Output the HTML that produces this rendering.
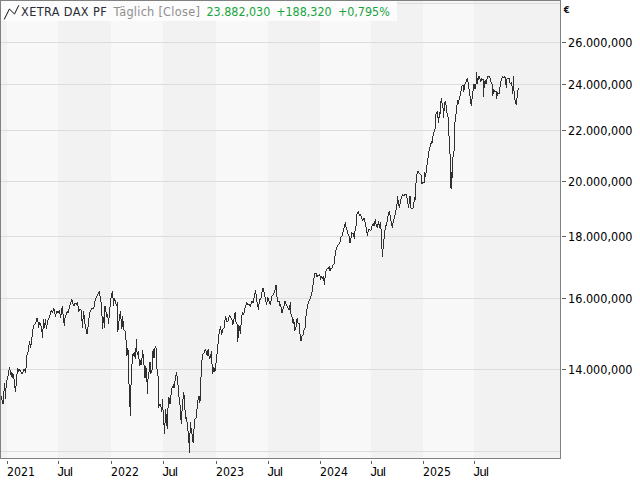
<!DOCTYPE html>
<html lang="de">
<head>
<meta charset="utf-8">
<title>XETRA DAX PF</title>
<style>
html,body{margin:0;padding:0;background:#fff;width:640px;height:480px;overflow:hidden}
svg text{font-family:"DejaVu Sans Condensed","DejaVu Sans","Liberation Sans",sans-serif;}
</style>
</head>
<body>
<svg width="640" height="480" viewBox="0 0 640 480" style="position:absolute;left:0;top:0;display:block">
<rect x="0" y="0" width="640" height="480" fill="#ffffff"/>
<rect x="1" y="1" width="6" height="457" fill="#f2f2f2"/>
<rect x="7" y="1" width="51" height="457" fill="#f8f8f8"/>
<rect x="58" y="1" width="53" height="457" fill="#f2f2f2"/>
<rect x="111" y="1" width="52" height="457" fill="#f8f8f8"/>
<rect x="163" y="1" width="53" height="457" fill="#f2f2f2"/>
<rect x="216" y="1" width="52" height="457" fill="#f8f8f8"/>
<rect x="268" y="1" width="52" height="457" fill="#f2f2f2"/>
<rect x="320" y="1" width="51" height="457" fill="#f8f8f8"/>
<rect x="371" y="1" width="52" height="457" fill="#f2f2f2"/>
<rect x="423" y="1" width="51" height="457" fill="#f8f8f8"/>
<rect x="474" y="1" width="86" height="457" fill="#f2f2f2"/>
<rect x="1" y="3" width="559" height="1" fill="#dcdcdc"/>
<rect x="1" y="42" width="559" height="1" fill="#dcdcdc"/>
<rect x="1" y="84" width="559" height="1" fill="#dcdcdc"/>
<rect x="1" y="130" width="559" height="1" fill="#dcdcdc"/>
<rect x="1" y="181" width="559" height="1" fill="#dcdcdc"/>
<rect x="1" y="236" width="559" height="1" fill="#dcdcdc"/>
<rect x="1" y="298" width="559" height="1" fill="#dcdcdc"/>
<rect x="1" y="369" width="559" height="1" fill="#dcdcdc"/>
<rect x="1" y="451" width="559" height="1" fill="#dcdcdc"/>
<rect x="1" y="1" width="396" height="20" fill="#fcfcfc"/>
<rect x="0" y="0" width="561" height="1" fill="#808080"/>
<rect x="0" y="0" width="1" height="459" fill="#808080"/>
<rect x="560" y="0" width="1" height="459" fill="#808080"/>
<rect x="0" y="458" width="561" height="1" fill="#808080"/>
<rect x="562" y="42" width="4" height="1" fill="#606060"/>
<text x="568.1" y="47.0" font-size="12.5" fill="#000" textLength="64.375" lengthAdjust="spacingAndGlyphs">26.000,000</text>
<rect x="562" y="84" width="4" height="1" fill="#606060"/>
<text x="568.1" y="89.0" font-size="12.5" fill="#000" textLength="64.375" lengthAdjust="spacingAndGlyphs">24.000,000</text>
<rect x="562" y="130" width="4" height="1" fill="#606060"/>
<text x="568.1" y="135.0" font-size="12.5" fill="#000" textLength="64.375" lengthAdjust="spacingAndGlyphs">22.000,000</text>
<rect x="562" y="181" width="4" height="1" fill="#606060"/>
<text x="568.1" y="186.0" font-size="12.5" fill="#000" textLength="64.375" lengthAdjust="spacingAndGlyphs">20.000,000</text>
<rect x="562" y="236" width="4" height="1" fill="#606060"/>
<text x="568.1" y="241.0" font-size="12.5" fill="#000" textLength="64.375" lengthAdjust="spacingAndGlyphs">18.000,000</text>
<rect x="562" y="298" width="4" height="1" fill="#606060"/>
<text x="568.1" y="303.0" font-size="12.5" fill="#000" textLength="64.375" lengthAdjust="spacingAndGlyphs">16.000,000</text>
<rect x="562" y="369" width="4" height="1" fill="#606060"/>
<text x="568.1" y="374.0" font-size="12.5" fill="#000" textLength="64.375" lengthAdjust="spacingAndGlyphs">14.000,000</text>
<rect x="7" y="461" width="1" height="3" fill="#606060"/>
<text x="7.0" y="476" font-size="12.2" fill="#000" textLength="27.90625" lengthAdjust="spacingAndGlyphs">2021</text>
<rect x="58" y="461" width="1" height="3" fill="#606060"/>
<text x="57.5" y="476" font-size="12.8" letter-spacing="-0.5" fill="#000" style="font-family:'Liberation Sans',sans-serif" textLength="14.859375" lengthAdjust="spacingAndGlyphs">Jul</text>
<rect x="111" y="461" width="1" height="3" fill="#606060"/>
<text x="111.0" y="476" font-size="12.2" fill="#000" textLength="27.90625" lengthAdjust="spacingAndGlyphs">2022</text>
<rect x="163" y="461" width="1" height="3" fill="#606060"/>
<text x="162.5" y="476" font-size="12.8" letter-spacing="-0.5" fill="#000" style="font-family:'Liberation Sans',sans-serif" textLength="14.859375" lengthAdjust="spacingAndGlyphs">Jul</text>
<rect x="216" y="461" width="1" height="3" fill="#606060"/>
<text x="216.0" y="476" font-size="12.2" fill="#000" textLength="27.90625" lengthAdjust="spacingAndGlyphs">2023</text>
<rect x="268" y="461" width="1" height="3" fill="#606060"/>
<text x="267.5" y="476" font-size="12.8" letter-spacing="-0.5" fill="#000" style="font-family:'Liberation Sans',sans-serif" textLength="14.859375" lengthAdjust="spacingAndGlyphs">Jul</text>
<rect x="320" y="461" width="1" height="3" fill="#606060"/>
<text x="320.0" y="476" font-size="12.2" fill="#000" textLength="27.90625" lengthAdjust="spacingAndGlyphs">2024</text>
<rect x="371" y="461" width="1" height="3" fill="#606060"/>
<text x="370.5" y="476" font-size="12.8" letter-spacing="-0.5" fill="#000" style="font-family:'Liberation Sans',sans-serif" textLength="14.859375" lengthAdjust="spacingAndGlyphs">Jul</text>
<rect x="423" y="461" width="1" height="3" fill="#606060"/>
<text x="423.0" y="476" font-size="12.2" fill="#000" textLength="27.90625" lengthAdjust="spacingAndGlyphs">2025</text>
<rect x="474" y="461" width="1" height="3" fill="#606060"/>
<text x="473.5" y="476" font-size="12.8" letter-spacing="-0.5" fill="#000" style="font-family:'Liberation Sans',sans-serif" textLength="14.859375" lengthAdjust="spacingAndGlyphs">Jul</text>
<text x="563.7" y="13.2" font-size="9.4" font-weight="bold" fill="#111">€</text>
<path fill="none" stroke="#303030" stroke-width="1" shape-rendering="crispEdges" d="M1.5 396v4M2.5 400v4M3.5 391v13M4.5 383v8M5.5 388v11M6.5 380v8M7.5 376v4M8.5 370v6M9.5 367v3M10.5 370v5M11.5 372v5M12.5 373v5M13.5 374v5M14.5 379v9M15.5 386v6M16.5 374v12M17.5 368v6M18.5 369v3M19.5 369v2M20.5 370v2M21.5 372v2M22.5 372v2M23.5 369v3M24.5 369v2M25.5 368v5M26.5 355v13M27.5 352v3M28.5 345v7M29.5 341v4M30.5 344v4M31.5 337v8M32.5 329v8M33.5 325v4M34.5 324v1M35.5 322v2M36.5 318v4M37.5 318v4M38.5 322v6M39.5 322v3M40.5 323v3M41.5 326v6M42.5 329v9M43.5 319v10M44.5 323v5M45.5 319v6M46.5 325v4M47.5 320v5M48.5 318v2M49.5 315v3M50.5 311v4M51.5 310v2M52.5 311v2M53.5 308v3M54.5 309v5M55.5 314v3M56.5 311v3M57.5 311v2M58.5 311v2M59.5 310v4M60.5 314v4M61.5 308v7M62.5 306v8M63.5 314v9M64.5 318v8M65.5 315v3M66.5 312v3M67.5 311v2M68.5 309v4M69.5 305v4M70.5 302v3M71.5 299v3M72.5 300v4M73.5 304v2M74.5 303v3M75.5 303v1M76.5 303v2M77.5 302v4M78.5 306v6M79.5 309v2M80.5 309v1M81.5 310v11M82.5 319v9M83.5 311v8M84.5 315v9M85.5 324v5M86.5 329v5M87.5 327v7M88.5 318v9M89.5 312v6M90.5 310v2M91.5 308v2M92.5 308v1M93.5 307v2M94.5 301v6M95.5 298v3M96.5 296v2M97.5 294v2M98.5 292v2M99.5 291v5M100.5 296v6M101.5 302v14M102.5 316v13M103.5 317v6M104.5 306v22M105.5 306v6M106.5 312v5M107.5 314v4M108.5 318v6M109.5 307v11M110.5 298v9M111.5 293v5M112.5 291v7M113.5 298v8M114.5 298v3M115.5 300v4M116.5 304v2M117.5 302v30M118.5 321v9M119.5 314v7M120.5 311v8M121.5 319v10M122.5 316v11M123.5 321v9M124.5 330v1M125.5 331v9M126.5 340v16M127.5 348v7M128.5 350v34M129.5 384v23M130.5 385v31M131.5 364v21M132.5 354v10M133.5 353v3M134.5 352v5M135.5 348v11M136.5 339v13M137.5 352v3M138.5 351v8M139.5 359v7M140.5 360v5M141.5 358v7M142.5 350v8M143.5 354v11M144.5 365v13M145.5 366v12M146.5 368v14M147.5 379v15M148.5 372v7M149.5 362v10M150.5 362v12M151.5 370v3M152.5 351v19M153.5 349v9M154.5 348v10M155.5 346v2M156.5 348v21M157.5 369v7M158.5 376v32M159.5 404v2M160.5 404v3M161.5 407v5M162.5 399v11M163.5 410v15M164.5 423v11M165.5 409v14M166.5 414v12M167.5 408v21M168.5 397v11M169.5 398v6M170.5 395v9M171.5 388v7M172.5 386v2M173.5 384v4M174.5 381v7M175.5 375v6M176.5 372v4M177.5 376v9M178.5 385v12M179.5 397v8M180.5 405v15M181.5 411v13M182.5 399v12M183.5 392v7M184.5 395v15M185.5 410v9M186.5 417v5M187.5 422v9M188.5 431v12M189.5 433v20M190.5 422v11M191.5 428v6M192.5 434v8M193.5 429v14M194.5 419v10M195.5 418v1M196.5 409v9M197.5 400v9M198.5 396v4M199.5 396v7M200.5 377v24M201.5 360v17M202.5 354v6M203.5 353v1M204.5 350v3M205.5 349v2M206.5 351v4M207.5 350v6M208.5 349v7M209.5 356v3M210.5 354v4M211.5 351v13M212.5 364v10M213.5 367v5M214.5 368v4M215.5 363v8M216.5 354v9M217.5 344v10M218.5 334v10M219.5 329v5M220.5 326v4M221.5 330v5M222.5 329v4M223.5 328v1M224.5 320v8M225.5 316v4M226.5 318v4M227.5 321v1M228.5 317v4M229.5 315v2M230.5 316v2M231.5 318v2M232.5 320v5M233.5 319v5M234.5 313v6M235.5 312v10M236.5 322v2M237.5 324v18M238.5 325v13M239.5 326v5M240.5 325v9M241.5 315v10M242.5 312v3M243.5 313v2M244.5 308v5M245.5 305v3M246.5 302v3M247.5 303v2M248.5 304v1M249.5 304v2M250.5 304v3M251.5 301v3M252.5 301v2M253.5 298v5M254.5 293v5M255.5 290v4M256.5 294v8M257.5 302v5M258.5 304v6M259.5 299v5M260.5 298v2M261.5 292v6M262.5 288v4M263.5 288v4M264.5 292v5M265.5 297v5M266.5 302v3M267.5 297v5M268.5 298v3M269.5 301v3M270.5 301v4M271.5 296v5M272.5 295v1M273.5 293v2M274.5 290v3M275.5 285v5M276.5 285v12M277.5 297v5M278.5 301v1M279.5 301v5M280.5 304v3M281.5 307v6M282.5 309v4M283.5 306v3M284.5 301v5M285.5 301v3M286.5 304v2M287.5 306v2M288.5 308v2M289.5 305v5M290.5 302v12M291.5 314v3M292.5 317v6M293.5 319v5M294.5 322v9M295.5 327v3M296.5 319v8M297.5 318v5M298.5 323v1M299.5 323v11M300.5 334v7M301.5 336v5M302.5 335v1M303.5 330v5M304.5 328v2M305.5 316v12M306.5 309v7M307.5 304v5M308.5 301v3M309.5 299v2M310.5 296v3M311.5 292v4M312.5 285v7M313.5 278v7M314.5 273v5M315.5 273v1M316.5 273v4M317.5 275v2M318.5 275v1M319.5 274v2M320.5 276v4M321.5 276v2M322.5 277v2M323.5 276v5M324.5 278v7M325.5 271v7M326.5 269v2M327.5 268v1M328.5 267v2M329.5 266v5M330.5 268v3M331.5 268v1M332.5 265v3M333.5 264v1M334.5 256v8M335.5 250v6M336.5 247v3M337.5 245v2M338.5 244v1M339.5 242v2M340.5 237v5M341.5 236v1M342.5 232v4M343.5 228v4M344.5 224v4M345.5 222v5M346.5 227v3M347.5 230v4M348.5 234v2M349.5 236v7M350.5 238v5M351.5 232v6M352.5 233v1M353.5 233v4M354.5 231v8M355.5 226v5M356.5 214v12M357.5 212v2M358.5 211v3M359.5 214v2M360.5 214v2M361.5 216v3M362.5 219v2M363.5 218v2M364.5 218v4M365.5 222v5M366.5 227v6M367.5 232v4M368.5 229v3M369.5 229v1M370.5 230v1M371.5 226v4M372.5 224v2M373.5 223v3M374.5 221v5M375.5 219v5M376.5 224v3M377.5 224v4M378.5 221v4M379.5 224v4M380.5 222v7M381.5 229v20M382.5 249v8M383.5 239v10M384.5 230v9M385.5 225v5M386.5 222v4M387.5 216v6M388.5 212v4M389.5 211v4M390.5 215v6M391.5 221v5M392.5 223v5M393.5 219v4M394.5 215v4M395.5 210v5M396.5 204v6M397.5 196v8M398.5 200v6M399.5 204v4M400.5 199v5M401.5 196v3M402.5 194v2M403.5 195v1M404.5 194v2M405.5 194v1M406.5 194v4M407.5 198v6M408.5 204v4M409.5 196v8M410.5 196v12M411.5 208v1M412.5 208v1M413.5 202v6M414.5 197v5M415.5 183v17M416.5 174v9M417.5 171v3M418.5 171v2M419.5 173v1M420.5 174v1M421.5 175v9M422.5 182v2M423.5 182v1M424.5 172v11M425.5 173v4M426.5 165v8M427.5 158v7M428.5 151v7M429.5 147v4M430.5 143v4M431.5 141v3M432.5 136v7M433.5 132v4M434.5 129v3M435.5 114v15M436.5 112v2M437.5 111v7M438.5 117v6M439.5 112v6M440.5 101v13M441.5 98v5M442.5 103v5M443.5 108v10M444.5 102v9M445.5 101v4M446.5 105v8M447.5 113v4M448.5 117v19M449.5 136v18M450.5 154v34M451.5 172v17M452.5 157v21M453.5 151v6M454.5 122v29M455.5 114v8M456.5 105v9M457.5 100v5M458.5 100v4M459.5 96v4M460.5 91v5M461.5 86v5M462.5 85v1M463.5 85v7M464.5 84v6M465.5 82v2M466.5 79v3M467.5 78v4M468.5 82v7M469.5 89v7M470.5 96v8M471.5 99v7M472.5 91v8M473.5 84v7M474.5 84v5M475.5 84v5M476.5 72v12M477.5 78v6M478.5 76v4M479.5 76v3M480.5 79v3M481.5 78v3M482.5 79v1M483.5 79v18M484.5 81v7M485.5 80v4M486.5 79v5M487.5 76v3M488.5 76v1M489.5 76v2M490.5 78v4M491.5 82v2M492.5 84v12M493.5 89v5M494.5 90v2M495.5 91v1M496.5 91v8M497.5 92v4M498.5 93v1M499.5 87v7M500.5 81v6M501.5 78v3M502.5 76v2M503.5 77v1M504.5 76v2M505.5 77v8M506.5 79v9M507.5 78v1M508.5 78v1M509.5 78v5M510.5 83v1M511.5 82v4M512.5 86v8M513.5 76v15M514.5 91v9M515.5 100v4M516.5 98v7M517.5 90v8M518.5 88v2"/>
<polyline fill="none" stroke="#111" stroke-width="1" points="4.2,19.5 9.4,9 14.5,14 18.8,5.3"/>
<text x="21" y="16" font-size="12.6" letter-spacing="0.38" fill="#2c2c36" textLength="86.0625" lengthAdjust="spacingAndGlyphs">XETRA DAX PF</text>
<text x="113.5" y="16" font-size="12.6" letter-spacing="0.25" fill="#8e8e8e" textLength="41.046875" lengthAdjust="spacingAndGlyphs">Täglich</text>
<text x="158.4" y="16" font-size="12.6" letter-spacing="0.3" fill="#8e8e8e" textLength="41.8125" lengthAdjust="spacingAndGlyphs">[Close]</text>
<text x="206.5" y="16" font-size="12.4" fill="#18a53e" textLength="63.8125" lengthAdjust="spacingAndGlyphs">23.882,030</text>
<text x="276.2" y="16" font-size="12.4" fill="#18a53e" textLength="55.4375" lengthAdjust="spacingAndGlyphs">+188,320</text>
<text x="337.9" y="16" font-size="12.4" fill="#18a53e" textLength="51.84375" lengthAdjust="spacingAndGlyphs">+0,795%</text>
</svg>
</body>
</html>
